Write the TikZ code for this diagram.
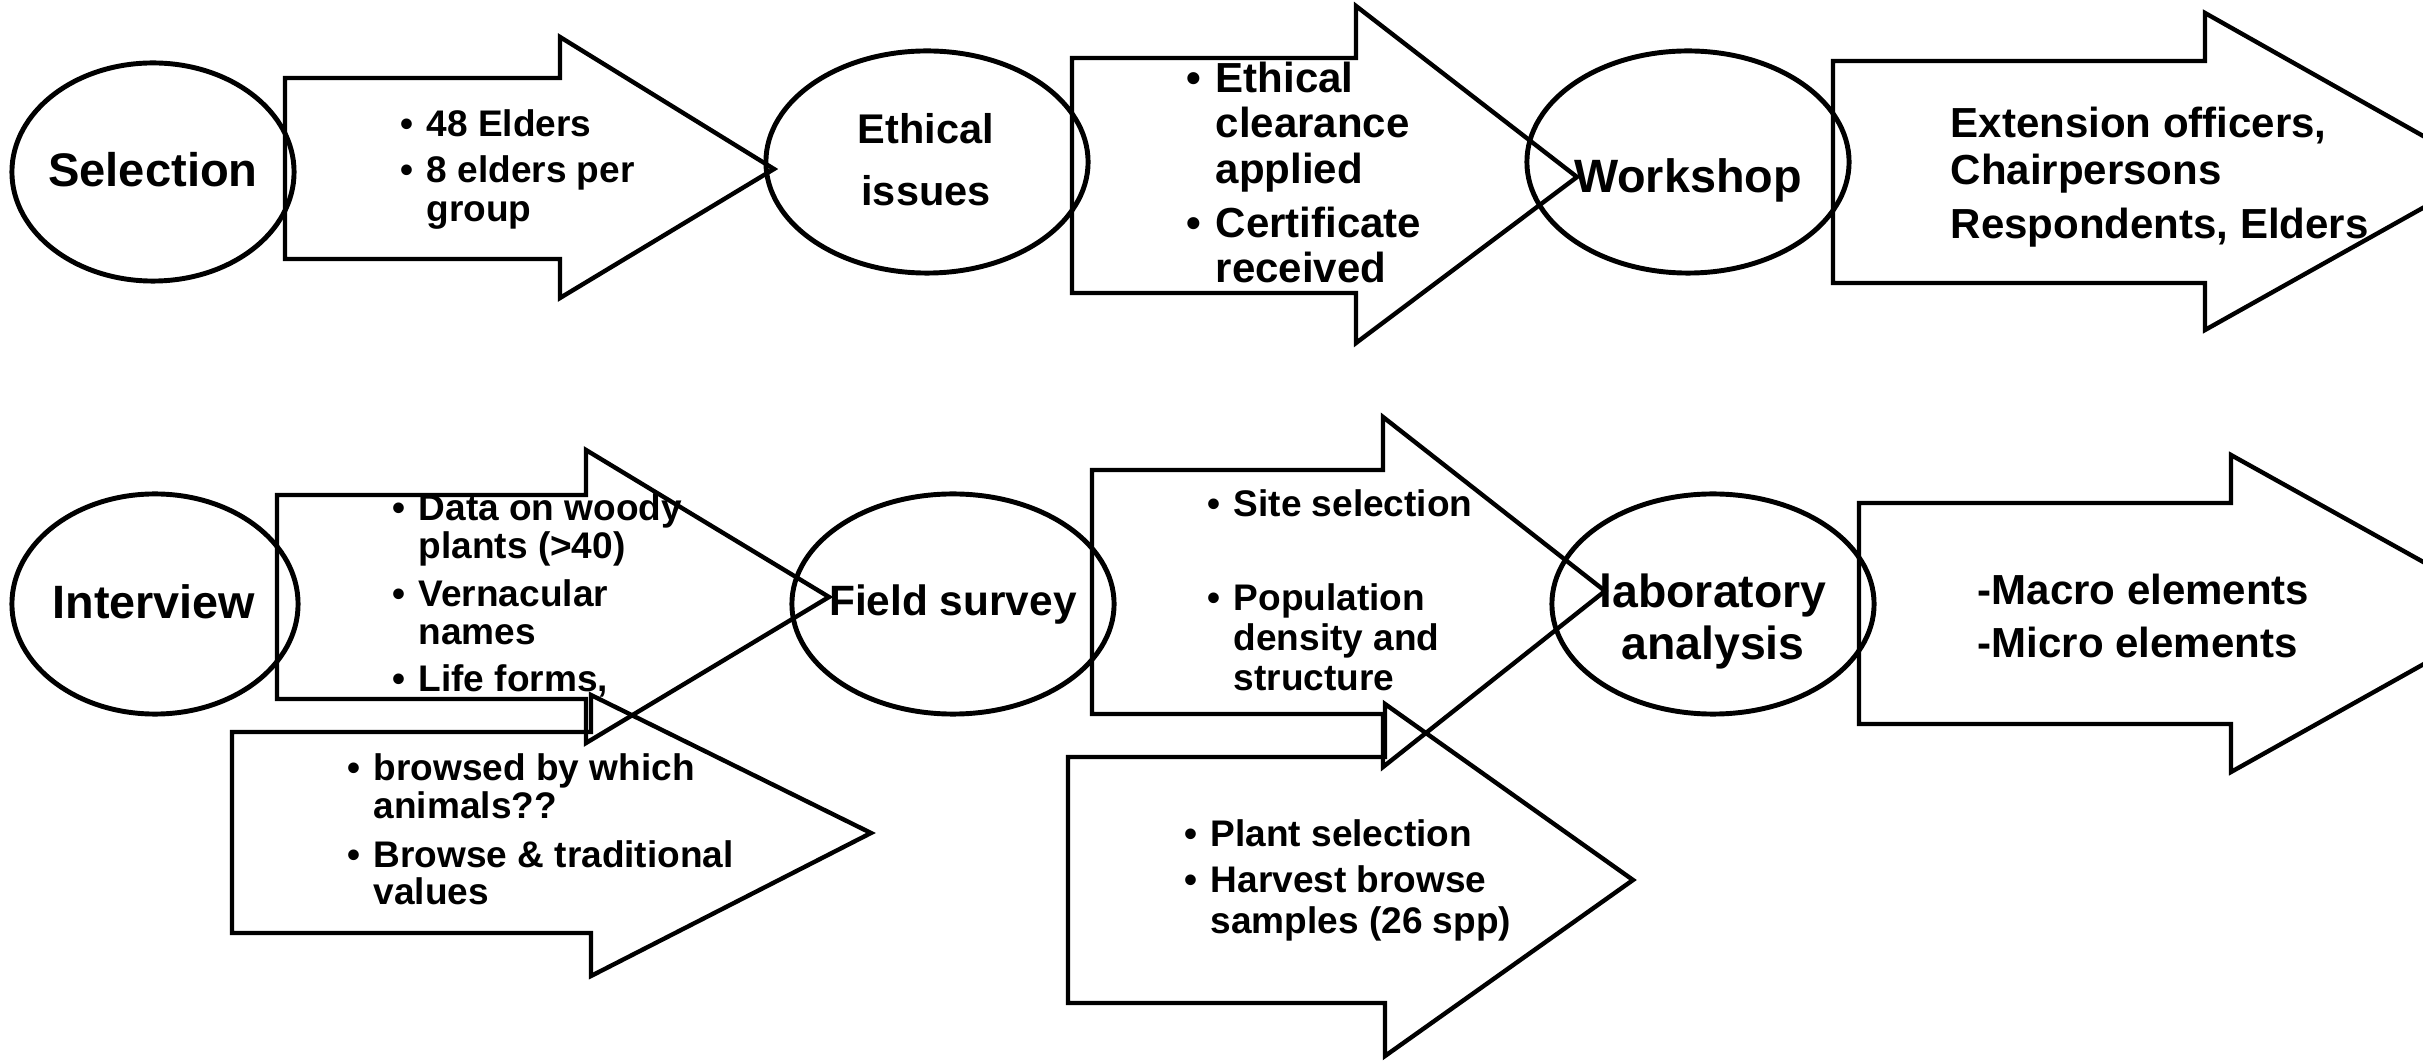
\documentclass[tikz,border=0pt]{standalone}
\usepackage{fontspec}
\setmainfont{Liberation Sans}
\usepackage{tikz}

\newcommand{\bul}{\makebox[0pt][r]{\textbullet\hspace{0.35em}}}
\newcommand{\sz}[2]{\fontsize{#1}{#2}\selectfont\bfseries}

\begin{document}
\begin{tikzpicture}[x=0.01cm,y=-0.01cm,
	stage/.style={inner sep=0pt, anchor=base, align=center},
	note/.style={inner sep=0pt, anchor=base west, align=left},
	ring/.style={line width=1.4pt},
	block/.style={line width=1.25pt, line join=miter}]
	\useasboundingbox (0,0) rectangle (2423,1061);
	\clip (0,0) rectangle (2423,1061);

	% first row (text nodes sit on the baseline of their last line)
	\draw[ring] (153,172) ellipse [x radius=1.41cm, y radius=1.09cm];
	\node[stage, font=\sz{13.4pt}{16pt}] (sel) at (153,187) {Selection};
	\draw[block] (285,78) -- (560,78) -- (560,37) -- (774,169) -- (560,298) -- (560,259) -- (285,259) -- cycle;
	\node[note, font=\sz{10.53pt}{11.1pt}] (elders) at (426,222) {\bul 48 Elders\\[0.07cm]\bul 8 elders per\\group};

	\draw[ring] (927,162) ellipse [x radius=1.61cm, y radius=1.11cm];
	\node[stage, font=\sz{11.8pt}{17.9pt}] (eth) at (926,206) {Ethical\\issues};
	\draw[block] (1072,58) -- (1356,58) -- (1356,6) -- (1577,177) -- (1356,343) -- (1356,293) -- (1072,293) -- cycle;
	\node[note, font=\sz{11.95pt}{12.95pt}] (clear) at (1215,283) {\bul Ethical\\clearance\\applied\\[0.085cm]\bul Certificate\\received};

	\draw[ring] (1688,162) ellipse [x radius=1.61cm, y radius=1.11cm];
	\node[stage, font=\sz{13.3pt}{16pt}] (work) at (1688,193) {Workshop};
	\draw[block] (1833,61) -- (2205,61) -- (2205,13) -- (2487,172) -- (2205,330) -- (2205,283) -- (1833,283) -- cycle;
	\node[note, font=\sz{11.95pt}{13.37pt}] (people) at (1950,239) {Extension officers,\\Chairpersons\\[0.07cm]Respondents, Elders};

	% second row
	\draw[ring] (155,604) ellipse [x radius=1.43cm, y radius=1.10cm];
	\node[stage, font=\sz{13.3pt}{16pt}] (inter) at (154,619) {Interview};
	\draw[block] (277,495) -- (586,495) -- (586,450) -- (829,597) -- (586,743) -- (586,699) -- (277,699) -- cycle;
	\node[note, font=\sz{10.53pt}{10.8pt}] (woody) at (418,692) {\bul Data on woody\\plants (>40)\\[0.1cm]\bul Vernacular\\names\\[0.1cm]\bul Life forms,};
	\draw[block] (232,732) -- (591,732) -- (591,695) -- (871,833) -- (591,976) -- (591,933) -- (232,933) -- cycle;
	\node[note, font=\sz{10.53pt}{10.8pt}] (browse) at (373,905) {\bul browsed by which\\animals??\\[0.11cm]\bul Browse \& traditional\\values};

	\draw[ring] (953,604) ellipse [x radius=1.61cm, y radius=1.10cm];
	\node[stage, font=\sz{12.06pt}{14pt}] (field) at (953,616) {Field survey};
	\draw[block] (1092,470) -- (1383,470) -- (1383,417) -- (1605,591) -- (1383,767) -- (1383,714) -- (1092,714) -- cycle;
	\node[note, font=\sz{10.53pt}{11.4pt}] (site) at (1233,691) {\bul Site selection\\[0.54cm]\bul Population\\density and\\structure};
	\draw[block] (1068,757) -- (1385,757) -- (1385,704) -- (1633,880) -- (1385,1056) -- (1385,1003) -- (1068,1003) -- cycle;
	\node[note, font=\sz{10.53pt}{11.4pt}] (plant) at (1210,933) {\bul Plant selection\\[0.06cm]\bul Harvest browse\\samples (26 spp)};

	\draw[ring] (1713,604) ellipse [x radius=1.61cm, y radius=1.10cm];
	\node[stage, font=\sz{13.2pt}{14.8pt}] (lab) at (1713,660) {laboratory\\analysis};
	\draw[block] (1859,503) -- (2231,503) -- (2231,455) -- (2515,613) -- (2231,772) -- (2231,724) -- (1859,724) -- cycle;
	\node[note, font=\sz{11.95pt}{15.08pt}] (elem) at (1977,658) {-Macro elements\\-Micro elements};
\end{tikzpicture}
\end{document}
